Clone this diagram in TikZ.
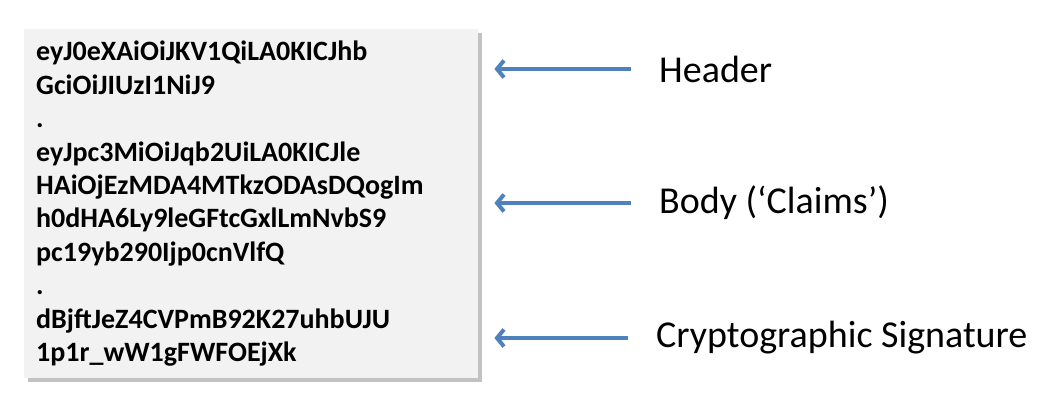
\documentclass[tikz,border=0pt]{standalone}
\usepackage{fontspec}
\setmainfont{Carlito}
\usetikzlibrary{arrows.meta,shadows}
\definecolor{jwtblue}{RGB}{79,129,189}
\definecolor{jwtgray}{RGB}{242,242,242}
\tikzset{
  tokenbox/.style={fill=jwtgray, drop shadow={shadow xshift=4pt, shadow yshift=-4pt, fill=black!40, opacity=0.6},
    align=left, anchor=north west, inner xsep=12pt, inner ysep=0pt,
    minimum width=454pt, minimum height=349pt, text width=430pt,
    font=\fontsize{28}{33.4}\selectfont\bfseries},
  partlabel/.style={anchor=west, inner sep=0pt, font=\fontsize{38}{42}\selectfont},
  pointer/.style={jwtblue, line width=4pt, -{Straight Barb[length=7pt,width=17pt]},
    shorten <=28pt, shorten >=16pt}
}

\begin{document}
\begin{tikzpicture}[x=1pt,y=1pt]
\useasboundingbox (0,0) rectangle (1058,403);
\path (24,374) node[tokenbox] (token) {eyJ0eXAiOiJKV1QiLA0KICJhb\\ GciOiJIUzI1NiJ9\\ .\\ eyJpc3MiOiJqb2UiLA0KICJle\\ HAiOjEzMDA4MTkzODAsDQogIm\\ h0dHA6Ly9leGFtcGxlLmNvbS9\\ pc19yb290Ijp0cnVlfQ\\ .\\ dBjftJeZ4CVPmB92K27uhbUJU\\ 1p1r\_wW1gFWFOEjXk};
\path (659,334) node[partlabel] (hdr) {Header};
\path (659,200) node[partlabel] (body) {Body (‘Claims’)};
\path (656,65) node[partlabel] (sig) {Cryptographic Signature};
\foreach \p in {hdr,body,sig}
  \draw[pointer] (\p.west) -- (\p.west -| token.east);
\end{tikzpicture}
\end{document}
